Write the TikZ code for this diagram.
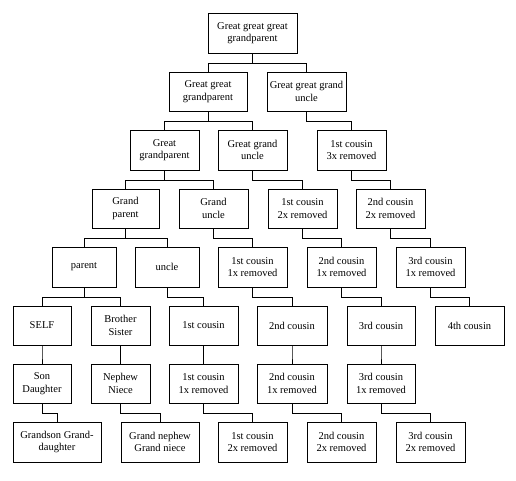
\documentclass[tikz,border=0pt]{standalone}
\usepackage{fontspec}
\setmainfont{Liberation Serif}
\begin{document}
\begin{tikzpicture}[x=1pt,y=-1pt,
  box/.style={draw, line width=0.8pt, inner sep=0pt, align=center,
    font=\fontsize{10.5}{12.6}\selectfont},
  link/.style={draw, line width=0.7pt}]
\useasboundingbox (0,0) rectangle (516,480);
\newcommand\bx[6]{\node[box, minimum width={#4pt-#2pt}, minimum height={#5pt-#3pt}] (#1) at ({(#2+#4)/2},{(#3+#5)/2}) {#6};}
\newcommand\lk[2]{\draw[link] (#1.south) -- ++(0,9.5) -| (#2.north);}
\bx{A}{208}{13}{297}{53}{Great great great\\grandparent}
\bx{B1}{169}{72}{247}{111}{Great great\\grandparent}
\bx{B2}{267}{72}{346}{111}{Great great grand\\uncle}
\bx{C1}{130}{130}{199}{170}{Great\\grandparent}
\bx{C2}{218}{130}{287}{170}{Great grand\\uncle}
\bx{C3}{317}{130}{386}{170}{1st cousin\\3x removed}
\bx{D1}{92}{189}{159}{228}{Grand\\parent}
\bx{D2}{179}{189}{248}{228}{Grand\\uncle}
\bx{D3}{268}{189}{337}{228}{1st cousin\\2x removed}
\bx{D4}{356}{189}{425}{228}{2nd cousin\\2x removed}
\bx{E1}{52}{247}{116}{287}{parent}
\bx{E2}{135}{247}{199}{287}{uncle}
\bx{E3}{218}{247}{287}{287}{1st cousin\\1x removed}
\bx{E4}{307}{247}{376}{287}{2nd cousin\\1x removed}
\bx{E5}{396}{247}{465}{287}{3rd cousin\\1x removed}
\bx{F1}{13}{306}{71}{345}{SELF}
\bx{F2}{91}{306}{150}{345}{Brother\\Sister}
\bx{F3}{169}{306}{238}{345}{1st cousin}
\bx{F4}{257}{306}{327}{345}{2nd cousin}
\bx{F5}{347}{306}{415}{345}{3rd cousin}
\bx{F6}{435}{306}{504}{345}{4th cousin}
\bx{G1}{13}{364}{71}{403}{Son\\Daughter}
\bx{G2}{91}{364}{150}{403}{Nephew\\Niece}
\bx{G3}{169}{364}{238}{403}{1st cousin\\1x removed}
\bx{G4}{257}{364}{327}{403}{2nd cousin\\1x removed}
\bx{G5}{347}{364}{415}{403}{3rd cousin\\1x removed}
\bx{H1}{13}{422}{101}{462}{Grandson Grand-\\daughter}
\bx{H2}{121}{422}{199}{462}{Grand nephew\\Grand niece}
\bx{H3}{218}{422}{287}{462}{1st cousin\\2x removed}
\bx{H4}{307}{422}{376}{462}{2nd cousin\\2x removed}
\bx{H5}{396}{422}{465}{462}{3rd cousin\\2x removed}
\lk{A}{B1}\lk{A}{B2}
\lk{B1}{C1}\lk{B1}{C2}\lk{B2}{C3}
\lk{C1}{D1}\lk{C1}{D2}\lk{C2}{D3}\lk{C3}{D4}
\lk{D1}{E1}\lk{D1}{E2}\lk{D2}{E3}\lk{D3}{E4}\lk{D4}{E5}
\lk{E1}{F1}\lk{E1}{F2}\lk{E2}{F3}\lk{E3}{F4}\lk{E4}{F5}\lk{E5}{F6}
\lk{F1}{G1}\lk{F2}{G2}\lk{F3}{G3}\lk{F4}{G4}\lk{F5}{G5}
\lk{G1}{H1}\lk{G2}{H2}\lk{G3}{H3}\lk{G4}{H4}\lk{G5}{H5}
\end{tikzpicture}
\end{document}
